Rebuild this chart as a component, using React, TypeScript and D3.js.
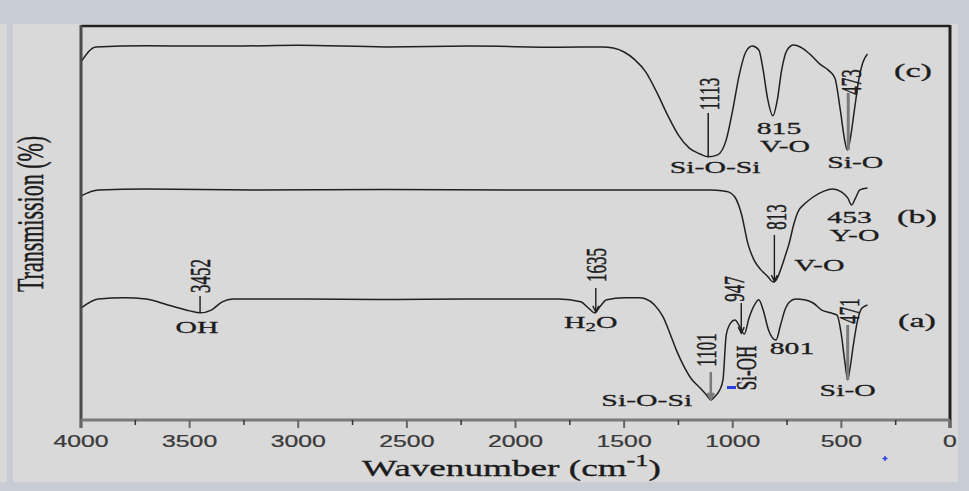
import React from "react"
import * as d3 from "d3"

// spectrum (c)
const cWave = [4000, 3931, 3700, 3450, 3300, 3000, 2600, 2200, 1800, 1600, 1550, 1500, 1450, 1400, 1350, 1300, 1250, 1200, 1150, 1113, 1070, 1030, 1000, 970, 940, 910, 880, 860, 840, 815, 795, 775, 750, 720, 680, 640, 600, 560, 530, 505, 485, 473, 460, 440, 420, 400, 380]
const cTrans = [90.9, 94.7, 95.0, 94.9, 94.9, 95.1, 94.7, 94.9, 94.6, 94.7, 94.4, 93.4, 91.4, 88.3, 83.2, 77.4, 72.3, 69.0, 67.5, 66.8, 67.3, 71.1, 78.7, 87.6, 93.4, 94.9, 93.9, 88.8, 81.7, 77.2, 81.2, 88.8, 93.9, 95.2, 94.4, 92.6, 90.4, 88.8, 86.8, 78.7, 71.1, 68.5, 71.1, 78.7, 86.3, 90.9, 92.9]

// spectrum (b)
const bWave = [4000, 3920, 3700, 3200, 2600, 2000, 1500, 1200, 1100, 1050, 1020, 990, 960, 930, 900, 870, 840, 813, 795, 780, 760, 740, 720, 700, 670, 630, 580, 540, 500, 470, 453, 435, 415, 380]
const bTrans = [56.9, 58.4, 58.6, 58.4, 58.5, 58.4, 58.4, 58.4, 58.4, 58.2, 57.9, 56.6, 52.3, 44.7, 40.4, 38.1, 36.5, 35.0, 36.0, 38.1, 41.4, 44.9, 49.5, 52.8, 54.8, 56.6, 58.1, 58.6, 57.9, 56.3, 54.6, 56.3, 58.4, 58.9]

// spectrum (a)
const aWave = [4000, 3920, 3800, 3700, 3600, 3500, 3452, 3400, 3350, 3300, 3000, 2600, 2200, 1800, 1700, 1660, 1635, 1610, 1580, 1500, 1430, 1400, 1360, 1320, 1290, 1260, 1230, 1190, 1150, 1120, 1101, 1080, 1060, 1045, 1030, 1010, 990, 965, 947, 925, 900, 880, 860, 835, 801, 780, 760, 740, 710, 670, 630, 590, 550, 520, 500, 485, 471, 460, 445, 425, 405, 380]
const aTrans = [28.4, 30.7, 31.0, 30.7, 29.2, 27.7, 27.2, 27.9, 30.0, 30.7, 30.7, 30.6, 30.7, 30.7, 30.0, 28.2, 27.2, 28.9, 30.5, 31.0, 31.0, 30.7, 29.2, 26.1, 22.1, 17.8, 14.2, 10.4, 8.1, 6.3, 5.1, 6.1, 7.6, 10.2, 21.6, 24.6, 25.4, 23.4, 21.8, 25.9, 29.2, 30.5, 27.9, 22.8, 20.3, 24.1, 27.9, 29.9, 30.7, 30.5, 29.7, 27.9, 27.2, 26.6, 21.6, 15.2, 10.2, 13.2, 19.0, 25.4, 28.4, 29.2]

const majorTicks = [4000, 3500, 3000, 2500, 2000, 1500, 1000, 500, 0]
const minorTicks = [3750, 3250, 2750, 2250, 1750, 1250, 750, 250]

const W = 969
const H = 491
const left = 81
const right = 950
const top = 26
const bottom = 420

const x = d3.scaleLinear().domain([4000, 0]).range([left, right])
const y = d3.scaleLinear().domain([0, 100]).range([bottom, top])

const line = d3
  .line<[number, number]>()
  .x(d => x(d[0]))
  .y(d => y(d[1]))
  .curve(d3.curveMonotoneX)

const pairs = (w: number[], t: number[]) => w.map((v, i) => [v, t[i]] as [number, number])
const at = (w: number[], t: number[], wn: number) => t[w.indexOf(wn)]

const SERIF = "'Liberation Serif', 'DejaVu Serif', serif"
const INK = "#1c1c1c"

const Label = ({ x, y, text, rot = false, size = 17, sx = 1.75 }: any) => (
  <text
    transform={`translate(${x},${y}) scale(${sx},1)${rot ? " rotate(-90)" : ""}`}
    textAnchor="middle"
    dominantBaseline="central"
    fontSize={size}
    fontFamily={SERIF}
    fill={INK}
    stroke={INK}
    strokeWidth={0.3}
  >
    {text}
  </text>
)

const Arrow = ({ x, y1, y2, color = INK, w = 1.4 }: any) => (
  <g stroke={color} strokeWidth={w} fill="none">
    <line x1={x} x2={x} y1={y1} y2={y2} />
    <path d={`M${x - 3},${y2 - 6} L${x},${y2} L${x + 3},${y2 - 6}`} />
  </g>
)

export default function App() {
  const pa = (wn: number) => y(at(aWave, aTrans, wn))
  const pb = (wn: number) => y(at(bWave, bTrans, wn))
  const pc = (wn: number) => y(at(cWave, cTrans, wn))

  return (
    <svg width={W} height={H} style={{ position: "absolute", left: 0, top: 0, display: "block" }}>
      <rect width={W} height={H} fill="#c8ccd5" />
      <rect x={0} y={24} width={7} height={458} fill="#d9d9d9" />
      <rect x={13} y={24} width={945} height={458} fill="#d9d9d9" />

      {/* spectra */}
      {[pairs(cWave, cTrans), pairs(bWave, bTrans), pairs(aWave, aTrans)].map((d, i) => (
        <path key={i} d={line(d) || ""} fill="none" stroke="#202020" strokeWidth={1.5} />
      ))}

      {/* frame */}
      <line x1={left} x2={right} y1={top} y2={top} stroke="#202020" strokeWidth={2.5} />
      <line x1={right} x2={right} y1={top - 1} y2={bottom + 8} stroke="#202020" strokeWidth={3} />
      <line x1={left} x2={left} y1={top - 1} y2={bottom + 8} stroke="#4a4a4a" strokeWidth={3} />
      <line x1={left} x2={right} y1={bottom} y2={bottom} stroke="#7a7a7a" strokeWidth={3} />

      {/* ticks */}
      {majorTicks.map(t => (
        <line key={t} x1={x(t)} x2={x(t)} y1={bottom} y2={bottom + 8} stroke="#666" strokeWidth={2} />
      ))}
      {minorTicks.map(t => (
        <line key={t} x1={x(t)} x2={x(t)} y1={bottom} y2={bottom + 5} stroke="#333" strokeWidth={1.5} />
      ))}
      {majorTicks.map(t => (
        <text
          key={t}
          transform={`translate(${x(t)},${441}) scale(1.55,1)`}
          textAnchor="middle"
          dominantBaseline="central"
          fontSize={16}
          fontFamily="'Liberation Sans', Arial, sans-serif"
          fill="#3a3a3a"
          stroke="#3a3a3a"
          strokeWidth={0.25}
        >
          {t}
        </text>
      ))}

      {/* axis titles */}
      <text
        transform={`translate(${(left + right) / 2 - 4},${476}) scale(1.55,1)`}
        textAnchor="middle"
        fontSize={24}
        fontFamily={SERIF}
        fill={INK}
        stroke={INK}
        strokeWidth={0.35}
      >
        Wavenumber (cm
        <tspan dy={-10} fontSize={17}>-1</tspan>
        <tspan dy={10}>)</tspan>
      </text>
      <text
        transform={`translate(${31},${214}) scale(1.7,1) rotate(-90)`}
        textAnchor="middle"
        dominantBaseline="central"
        fontSize={22}
        fontFamily={SERIF}
        fill={INK}
        stroke={INK}
        strokeWidth={0.3}
      >
        Transmission (%)
      </text>

      {/* (c) annotations */}
      <Label x={x(1113)} y={94} text="1113" rot />
      <line x1={x(1113)} x2={x(1113)} y1={113} y2={pc(1113)} stroke={INK} strokeWidth={1.5} />
      <Label x={x(1113) + 7} y={pc(1113) + 10} text="Si-O-Si" />
      <Label x={x(815) + 6} y={128} text="815" />
      <Label x={x(815) + 12} y={146} text="V-O" />
      <Label x={x(473) + 3} y={82} text="473" rot />
      <line x1={x(473) + 1} x2={x(473) + 1} y1={93} y2={pc(473)} stroke="#7a7a7a" strokeWidth={3} />
      <Label x={x(473) + 8} y={pc(473) + 12} text="Si-O" />
      <Label x={913} y={70} text="(c)" size={19} sx={1.8} />

      {/* (b) annotations */}
      <Label x={x(813) + 2} y={217} text="813" rot />
      <Arrow x={x(813) + 1} y1={235} y2={pb(813) - 1} />
      <Label x={x(813) + 46} y={265} text="V-O" />
      <Label x={x(453) - 2} y={217} text="453" />
      <Label x={x(453) + 3} y={235} text="Y-O" />
      <Label x={917} y={216} text="(b)" size={19} sx={1.8} />

      {/* (a) annotations */}
      <Label x={x(3452)} y={276} text="3452" rot />
      <line x1={x(3452)} x2={x(3452)} y1={296} y2={pa(3452)} stroke={INK} strokeWidth={1.4} />
      <Label x={x(3452) - 3} y={327} text="OH" />
      <Label x={x(1635) + 1} y={265} text="1635" rot />
      <Arrow x={x(1635) + 1} y1={288} y2={pa(1635) - 1} />
      <text
        transform={`translate(${x(1635) - 4},${322}) scale(1.75,1)`}
        textAnchor="middle"
        dominantBaseline="central"
        fontSize={17}
        fontFamily={SERIF}
        fill={INK}
        stroke={INK}
        strokeWidth={0.3}
      >
        H<tspan dy={5} fontSize={12}>2</tspan>
        <tspan dy={-5}>O</tspan>
      </text>
      <Label x={x(1101) - 5} y={350} text="1101" rot />
      <Arrow x={x(1101)} y1={372} y2={pa(1101) - 1} color="#7a7a7a" w={2.5} />
      <Label x={x(1101) - 64} y={400} text="Si-O-Si" />
      <Label x={x(947) - 11} y={289} text="947" rot />
      <Arrow x={x(947) - 3} y1={303} y2={pa(947) - 1} />
      <Label x={x(947) + 1} y={368} text="Si-OH" rot />
      <Label x={x(801) + 16} y={348} text="801" />
      <Label x={x(471) + 1} y={311} text="471" rot />
      <line x1={x(471)} x2={x(471)} y1={325} y2={pa(471)} stroke="#7a7a7a" strokeWidth={3} />
      <Label x={x(471)} y={390} text="Si-O" />
      <Label x={917} y={320} text="(a)" size={19} sx={1.8} />

      {/* stray blue marks */}
      <rect x={727} y={386} width={9} height={3} fill="#2b3fe0" />
      <path d="M885,456 v5 M882.5,458.5 h5" stroke="#2b3fe0" strokeWidth={1.5} />
    </svg>
  )
}
